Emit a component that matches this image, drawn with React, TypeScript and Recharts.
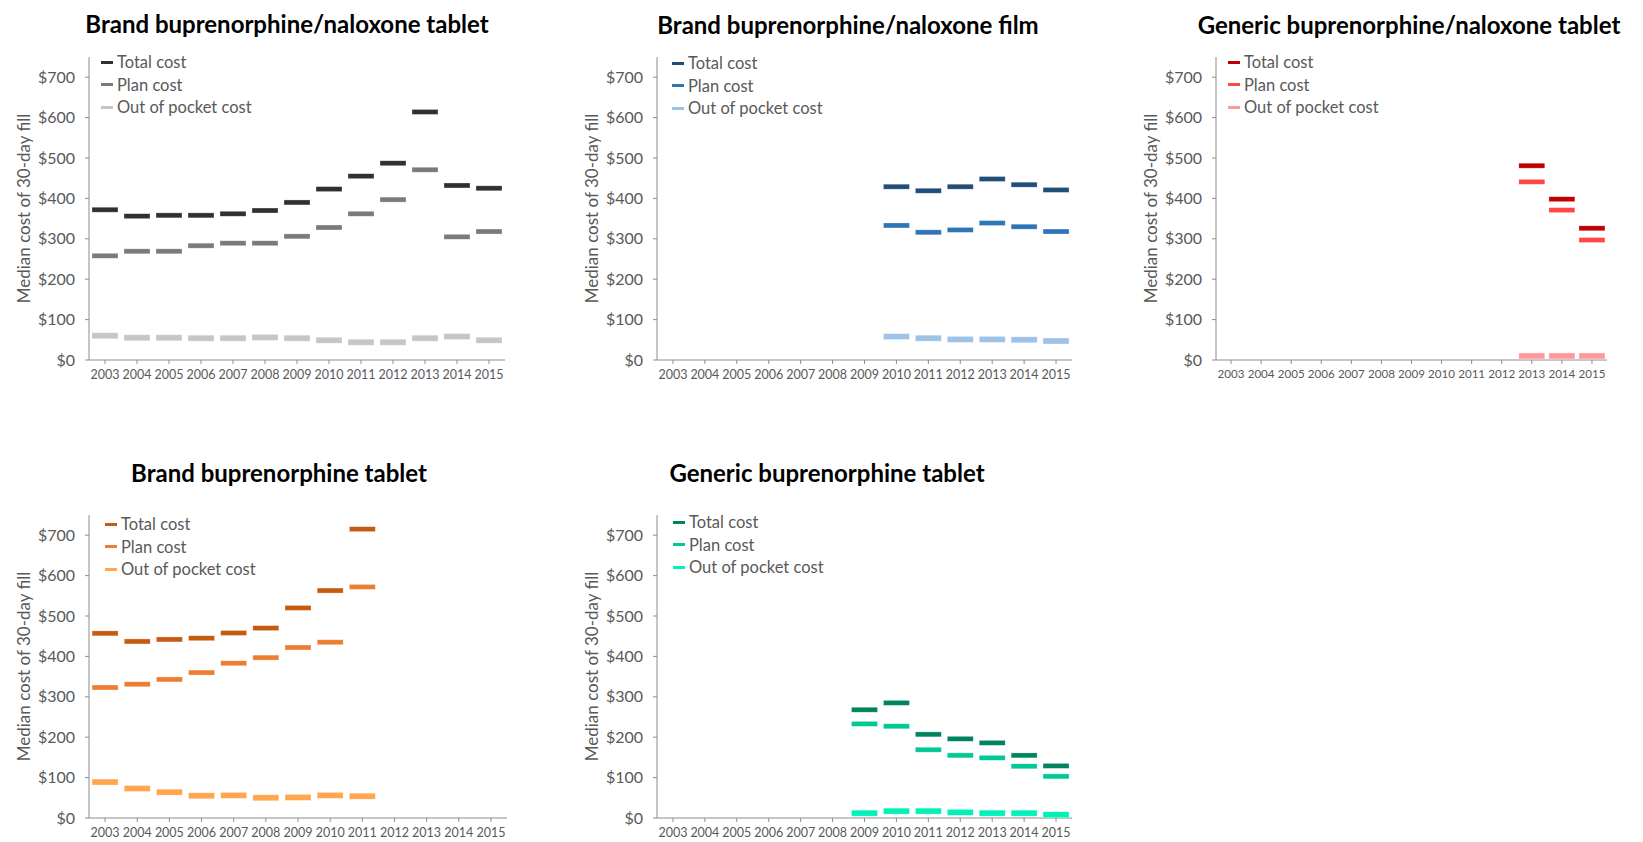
import React from "react";
import { ComposedChart, Line, XAxis, YAxis } from "recharts";

const years = ["2003", "2004", "2005", "2006", "2007", "2008", "2009", "2010", "2011", "2012", "2013", "2014", "2015"];
const yTicks = [0, 100, 200, 300, 400, 500, 600, 700];
const seriesNames = ["Total cost", "Plan cost", "Out of pocket cost"];

const bnTabletTotal = [372, 356, 358, 358, 362, 370, 390, 423, 455, 487, 614, 432, 425];
const bnTabletPlan = [258, 269, 269, 283, 289, 289, 306, 328, 362, 397, 471, 305, 318];
const bnTabletOop = [60, 55, 55, 54, 54, 56, 54, 49, 44, 44, 54, 58, 49];

const bnFilmTotal = [null, null, null, null, null, null, null, 429, 419, 429, 448, 434, 421];
const bnFilmPlan = [null, null, null, null, null, null, null, 333, 316, 322, 339, 330, 318];
const bnFilmOop = [null, null, null, null, null, null, null, 58, 54, 51, 51, 50, 47];

const genBnTotal = [null, null, null, null, null, null, null, null, null, null, 481, 398, 326];
const genBnPlan = [null, null, null, null, null, null, null, null, null, null, 441, 371, 297];
const genBnOop = [null, null, null, null, null, null, null, null, null, null, 10, 10, 10];

const bTabletTotal = [457, 437, 442, 445, 458, 470, 520, 563, 715, null, null, null, null];
const bTabletPlan = [323, 331, 343, 360, 383, 397, 422, 435, 572, null, null, null, null];
const bTabletOop = [89, 73, 64, 55, 56, 50, 51, 56, 54, null, null, null, null];

const genBTotal = [null, null, null, null, null, null, 268, 285, 207, 196, 186, 155, 129];
const genBPlan = [null, null, null, null, null, null, 233, 227, 169, 155, 149, 128, 103];
const genBOop = [null, null, null, null, null, null, 12, 17, 17, 14, 12, 12, 8];

const FONT = "Lato, 'Open Sans', sans-serif";
const AXIS = "#8c8c8c";
const TEXT = "#595959";

type Num = number | null;

function buildRows(total: Num[], plan: Num[], oop: Num[]) {
  return years.map((year, i) => ({ year, total: total[i], plan: plan[i], oop: oop[i] }));
}

const Dash = (fill: string, h: number) => (props: any) => {
  const { cx, cy, index, value } = props;
  if (cy == null || value == null || isNaN(cy)) return <g key={`e-${index}`} />;
  return <rect key={`d-${index}`} x={cx - 13} y={cy - h / 2} width={26} height={h} fill={fill} stroke="#ffffff" strokeOpacity={0.5} strokeWidth={0.6} />;
};

const YLabel = (props: any) => {
  const vb = props.viewBox || { x: 0, y: 57, width: 89, height: 303 };
  const x = vb.x + 23;
  const y = vb.y + vb.height / 2;
  return (
    <text x={x} y={y} transform={`rotate(-90 ${x} ${y})`} textAnchor="middle" dominantBaseline="central" fill={TEXT} fontSize={17} fontFamily={FONT}>
      Median cost of 30-day fill
    </text>
  );
};

function LegendBox({ colors, left, top }: { colors: string[]; left: number; top: number }) {
  return (
    <div style={{ position: "absolute", left, top, fontFamily: FONT, fontSize: 16.5, color: TEXT }}>
      {seriesNames.map((n, i) => (
        <div key={n} style={{ display: "flex", alignItems: "center", height: 22.5 }}>
          <span style={{ display: "inline-block", width: 12, height: 3, background: colors[i], marginRight: 4 }} />
          <span>{n}</span>
        </div>
      ))}
    </div>
  );
}

type PanelProps = {
  left: number;
  top: number;
  width: number;
  plotWidth: number;
  tickFont: number;
  title: string;
  titleX: number;
  titleY: number;
  legendLeft: number;
  legendTop: number;
  colors: string[];
  total: Num[];
  plan: Num[];
  oop: Num[];
};

function Panel(p: PanelProps) {
  const data = buildRows(p.total, p.plan, p.oop);
  const right = p.width - 89 - p.plotWidth;
  return (
    <>
      <div
        style={{
          position: "absolute",
          left: p.titleX,
          top: p.titleY,
          transform: "translate(-50%, -50%)",
          whiteSpace: "nowrap",
          fontFamily: FONT,
          fontWeight: 700,
          fontSize: 24,
          color: "#000",
        }}
      >
        {p.title}
      </div>
      <div style={{ position: "absolute", left: p.left, top: p.top }}>
        <ComposedChart width={p.width} height={400} data={data} margin={{ top: 57, right: right, bottom: 0, left: 0 }}>
          <XAxis
            dataKey="year"
            scale="band"
            interval={0}
            height={40}
            stroke={AXIS}
            tickSize={4}
            tickMargin={6}
            tick={{ fill: TEXT, fontSize: p.tickFont, fontFamily: FONT }}
          />
          <YAxis
            width={89}
            domain={[0, 750]}
            ticks={yTicks}
            allowDataOverflow
            stroke={AXIS}
            tickSize={4}
            tickMargin={10}
            tickFormatter={(v: number) => `$${v}`}
            tick={{ fill: TEXT, fontSize: 16, fontFamily: FONT }}
            label={<YLabel />}
          />
          <Line dataKey="total" name={seriesNames[0]} stroke="none" isAnimationActive={false} dot={Dash(p.colors[0], 5)} activeDot={false} />
          <Line dataKey="plan" name={seriesNames[1]} stroke="none" isAnimationActive={false} dot={Dash(p.colors[1], 5)} activeDot={false} />
          <Line dataKey="oop" name={seriesNames[2]} stroke="none" isAnimationActive={false} dot={Dash(p.colors[2], 6)} activeDot={false} />
        </ComposedChart>
        <LegendBox colors={p.colors} left={p.legendLeft} top={p.legendTop} />
      </div>
    </>
  );
}

export default function App() {
  return (
    <div style={{ position: "absolute", left: 0, top: 0, width: 1643, height: 842, background: "#fff", overflow: "hidden" }}>
      <Panel left={0} top={0} width={520} plotWidth={416} tickFont={12.5} title="Brand buprenorphine/naloxone tablet" titleX={287} titleY={23}
        legendLeft={101} legendTop={51} colors={["#303030", "#7a7a7a", "#c6c6c6"]}
        total={bnTabletTotal} plan={bnTabletPlan} oop={bnTabletOop} />
      <Panel left={568} top={0} width={520} plotWidth={415} tickFont={12.5} title="Brand buprenorphine/naloxone film" titleX={848} titleY={24}
        legendLeft={104} legendTop={52} colors={["#1f4e79", "#2e75b6", "#9dc3e6"]}
        total={bnFilmTotal} plan={bnFilmPlan} oop={bnFilmOop} />
      <Panel left={1127} top={0} width={516} plotWidth={391} tickFont={11.6} title="Generic buprenorphine/naloxone tablet" titleX={1409} titleY={24}
        legendLeft={101} legendTop={51} colors={["#c00000", "#ff4747", "#ff9999"]}
        total={genBnTotal} plan={genBnPlan} oop={genBnOop} />
      <Panel left={0} top={458} width={520} plotWidth={418} tickFont={12.5} title="Brand buprenorphine tablet" titleX={279} titleY={472}
        legendLeft={105} legendTop={55} colors={["#c55a11", "#ed7d31", "#ffa64f"]}
        total={bTabletTotal} plan={bTabletPlan} oop={bTabletOop} />
      <Panel left={568} top={458} width={520} plotWidth={415} tickFont={12.5} title="Generic buprenorphine tablet" titleX={827} titleY={472}
        legendLeft={105} legendTop={53} colors={["#00845f", "#00c896", "#00f2b6"]}
        total={genBTotal} plan={genBPlan} oop={genBOop} />
    </div>
  );
}
